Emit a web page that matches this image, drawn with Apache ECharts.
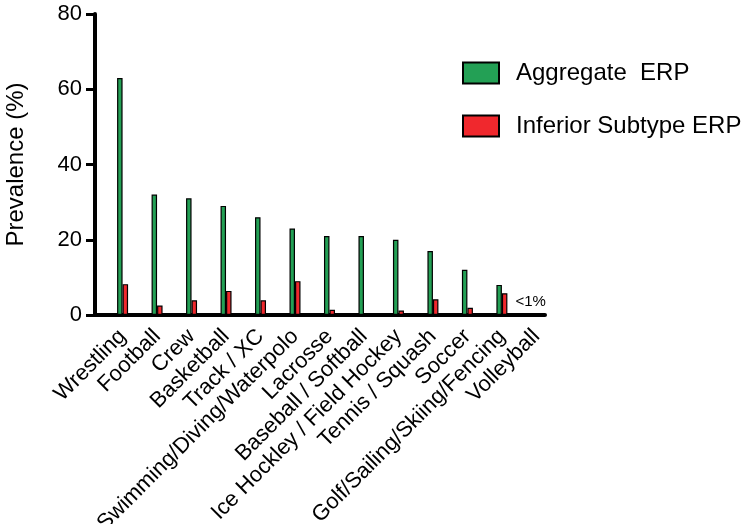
<!DOCTYPE html>
<html>
<head>
<meta charset="utf-8">
<script src="https://cdn.jsdelivr.net/npm/echarts@6/dist/echarts.min.js"></script>
<style>html,body{margin:0;padding:0;background:#fff}#c{width:748px;height:524px}</style>
</head>
<body>
<div id="c"></div>
<script>
const categories = ['Wrestling','Football','Crew','Basketball','Track / XC','Swimming/Diving/Waterpolo','Lacrosse','Baseball / Softball','Ice Hockley / Field Hockey','Tennis / Squash','Soccer','Golf/Sailing/Skiing/Fencing','Volleyball'];
const aggregate = [63, 32, 31, 29, 26, 23, 21, 21, 20, 17, 12, 8, 0];
const inferior = [8.2, 2.5, 3.9, 6.4, 3.9, 9.0, 1.4, 0, 1.2, 4.2, 1.9, 5.8, 0];
const yTicks = [0, 20, 40, 60, 80];
const noteLabel = '<1%';
const noteIndex = 12;

const FONT = '"Liberation Sans", Arial, sans-serif';
const idx = categories.map((_, i) => i);

function buildData(vals, withNote) {
  return vals.map((v, i) => {
    const item = { value: [i, v] };
    if (i === noteIndex) {
      item.itemStyle = { borderWidth: 0, color: 'rgba(0,0,0,0)' };
      if (withNote) {
        item.label = { show: true, formatter: noteLabel, position: 'top', distance: 6, offset: [-3, 0],
          color: '#000', fontSize: 15, fontFamily: FONT };
      }
    }
    return item;
  });
}

const chart = echarts.init(document.getElementById('c'));
chart.setOption({
  animation: false,
  backgroundColor: '#fff',
  grid: { left: 95, right: 203, top: 14, bottom: 209, containLabel: false, outerBoundsMode: 'none' },
  legend: {
    orient: 'vertical', left: 462, top: 61, padding: 0,
    itemWidth: 36, itemHeight: 21, itemGap: 29,
    icon: 'rect',
    textStyle: { fontSize: 24, fontFamily: FONT, color: '#000', padding: [0, 0, 0, 12] },
    data: ['Aggregate  ERP', 'Inferior Subtype ERP']
  },
  xAxis: {
    type: 'value', min: -0.8, max: 12.25,
    splitLine: { show: false },
    axisLine: { show: true, onZero: false, lineStyle: { color: '#000', width: 4 } },
    axisTick: { show: false },
    axisLabel: {
      customValues: idx,
      formatter: v => categories[Math.round(v)] || '',
      rotate: 45, margin: 18, fontSize: 22, fontFamily: FONT, color: '#000'
    }
  },
  yAxis: {
    type: 'value', min: yTicks[0], max: yTicks[yTicks.length - 1], interval: 20,
    name: 'Prevalence (%)', nameLocation: 'middle', nameGap: 67,
    nameTextStyle: { fontSize: 24, fontFamily: FONT, color: '#000' },
    splitLine: { show: false },
    axisLine: { show: true, onZero: false, lineStyle: { color: '#000', width: 4 } },
    axisTick: { show: true, length: 9, lineStyle: { color: '#000', width: 3 } },
    axisLabel: { margin: 13, fontSize: 22, fontFamily: FONT, color: '#000' }
  },
  series: [
    {
      name: 'Aggregate  ERP', type: 'bar', barWidth: 5.5, barGap: '0%',
      itemStyle: { color: '#23a055', borderColor: '#000', borderWidth: 1.2 },
      data: buildData(aggregate, true)
    },
    {
      name: 'Inferior Subtype ERP', type: 'bar', barWidth: 5.5, barGap: '0%',
      itemStyle: { color: '#f0282d', borderColor: '#000', borderWidth: 1.2 },
      data: buildData(inferior, false)
    }
  ]
});
</script>
</body>
</html>
